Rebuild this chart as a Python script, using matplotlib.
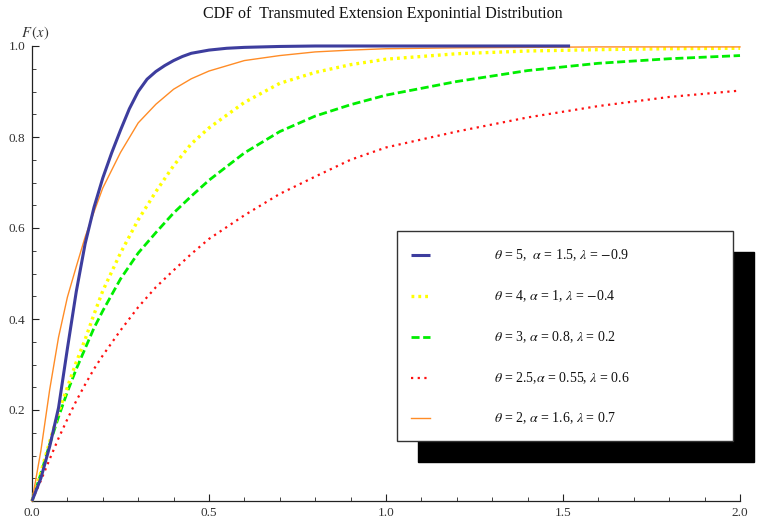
import matplotlib
matplotlib.use("Agg")
import matplotlib.pyplot as plt
from matplotlib.patches import Rectangle
from matplotlib.lines import Line2D
from matplotlib.ticker import MultipleLocator

# ---- data ----
x_grid = [0, 0.025, 0.05, 0.075, 0.1, 0.125, 0.15, 0.175, 0.2, 0.25, 0.3, 0.35,
          0.4, 0.45, 0.5, 0.6, 0.7, 0.8, 0.9, 1.0, 1.2, 1.4, 1.6, 1.8, 2.0]
x_blue = [0, 0.025, 0.05, 0.075, 0.1, 0.125, 0.15, 0.175, 0.2, 0.225, 0.25, 0.275, 0.3,
          0.325, 0.35, 0.375, 0.4, 0.425, 0.45, 0.5, 0.55, 0.6, 0.7, 0.8, 0.9, 1.0,
          1.2, 1.4, 1.52]

cdf_blue = [0, 0.05, 0.12, 0.205, 0.335, 0.46, 0.565, 0.645, 0.71, 0.765, 0.815, 0.862, 0.90,
            0.927, 0.944, 0.957, 0.968, 0.977, 0.984, 0.991, 0.995, 0.997, 0.999, 1.0, 1.0, 1.0,
            1.0, 1.0, 1.0]
cdf_yellow = [0, 0.063, 0.13, 0.195, 0.25, 0.305, 0.355, 0.41, 0.462, 0.545, 0.618, 0.68,
              0.737, 0.785, 0.82, 0.876, 0.918, 0.942, 0.959, 0.971, 0.983, 0.989, 0.992, 0.994, 0.995]
cdf_green = [0, 0.06, 0.125, 0.185, 0.24, 0.29, 0.335, 0.38, 0.418, 0.488, 0.545, 0.59,
             0.633, 0.67, 0.705, 0.765, 0.812, 0.846, 0.871, 0.892, 0.922, 0.946, 0.962, 0.972, 0.979]
cdf_red = [0, 0.045, 0.092, 0.138, 0.18, 0.22, 0.256, 0.29, 0.32, 0.375, 0.426, 0.47,
           0.507, 0.543, 0.576, 0.628, 0.675, 0.713, 0.75, 0.777, 0.812, 0.843, 0.868, 0.888, 0.902]
cdf_orange = [0, 0.11, 0.245, 0.36, 0.448, 0.515, 0.58, 0.635, 0.688, 0.766, 0.831, 0.872,
              0.905, 0.928, 0.945, 0.968, 0.979, 0.987, 0.991, 0.994, 0.996, 0.997, 0.998, 0.998, 0.998]

labels = [r"$\theta$ = 5,  $\alpha$ = 1.5, $\lambda$ = $-$0.9",
          r"$\theta$ = 4, $\alpha$ = 1, $\lambda$ = $-$0.4",
          r"$\theta$ = 3, $\alpha$ = 0.8, $\lambda$ = 0.2",
          r"$\theta$ = 2.5,$\alpha$ = 0.55, $\lambda$ = 0.6",
          r"$\theta$ = 2, $\alpha$ = 1.6, $\lambda$ = 0.7"]

x_ticks = [0.0, 0.5, 1.0, 1.5, 2.0]
y_ticks = [0.2, 0.4, 0.6, 0.8, 1.0]

title = "CDF of  Transmuted Extension Exponintial Distribution"

# ---- styles ----
styles = [
    dict(color="#3d3d9e", lw=2.2, ls="-", solid_capstyle="butt"),
    dict(color="#ffff00", lw=2.4, ls=(0, (0.85, 1.2)), dash_capstyle="butt"),
    dict(color="#00ee00", lw=2.0, ls=(0, (2.9, 1.3)), dash_capstyle="butt"),
    dict(color="#ff1010", lw=1.6, ls=(0, (1.0, 2.0)), dash_capstyle="butt"),
    dict(color="#ff8c26", lw=1.0, ls="-"),
]

plt.rcParams["font.family"] = ["Liberation Serif", "DejaVu Serif"]
plt.rcParams["mathtext.fontset"] = "stix"

W, H = 760, 522
fig = plt.figure(figsize=(W / 100, H / 100), dpi=100)
ax = fig.add_axes([32 / W, 1 - 501 / H, (740 - 32) / W, (501 - 46) / H])

series = [(x_blue, cdf_blue), (x_grid, cdf_yellow), (x_grid, cdf_green),
          (x_grid, cdf_red), (x_grid, cdf_orange)]
order = [3, 2, 1, 4, 0]
for i in order:
    xs, ys = series[i]
    ax.plot(xs, ys, clip_on=False, zorder=3, **styles[i])

ax.set_xlim(0, 2)
ax.set_ylim(0, 1)
for s in ["top", "right"]:
    ax.spines[s].set_visible(False)
for s in ["left", "bottom"]:
    ax.spines[s].set_color("#222222")
    ax.spines[s].set_linewidth(0.9)

ax.set_xticks(x_ticks)
ax.set_xticklabels([f"{v:.1f}" for v in x_ticks])
ax.set_yticks(y_ticks)
ax.set_yticklabels([f"{v:.1f}" for v in y_ticks])
ax.xaxis.set_minor_locator(MultipleLocator(0.1))
ax.yaxis.set_minor_locator(MultipleLocator(0.05))
ax.tick_params(which="major", direction="in", length=5, width=0.8, color="#222222",
               labelsize=9.5, labelcolor="#333333")
ax.tick_params(which="minor", direction="in", length=3, width=0.6, color="#222222")
ax.tick_params(axis="x", which="both", pad=4)
ax.tick_params(axis="y", which="major", pad=5)

fig.text(383 / W, 1 - 14 / H, title, ha="center", va="center", fontsize=11.5, color="#111111")
fig.text(35 / W, 1 - 33 / H, r"$F\,(x)$", ha="center", va="center", fontsize=10.5, color="#333333")

# ---- legend box with black shadow ----
bx0, by0, bx1, by1 = 397, 231, 733, 441
off = 21
fig.patches.append(Rectangle(((bx0 + off) / W, 1 - (by1 + off) / H), (bx1 - bx0) / W,
                             (by1 - by0) / H, transform=fig.transFigure,
                             facecolor="black", edgecolor="black", zorder=5))
fig.patches.append(Rectangle((bx0 / W, 1 - by1 / H), (bx1 - bx0) / W, (by1 - by0) / H,
                             transform=fig.transFigure, facecolor="white",
                             edgecolor="#333333", lw=1.0, zorder=6))
rows = [255, 296, 337, 378, 418]
for i, yy in enumerate(rows):
    st = dict(styles[i])
    fig.lines.append(Line2D([411 / W, 430 / W], [1 - yy / H, 1 - yy / H],
                            transform=fig.transFigure, zorder=7, **st))
    fig.text(494 / W, 1 - yy / H, labels[i], ha="left", va="center", fontsize=10,
             color="#111111", zorder=8)

fig.savefig("out.png", dpi=100)
